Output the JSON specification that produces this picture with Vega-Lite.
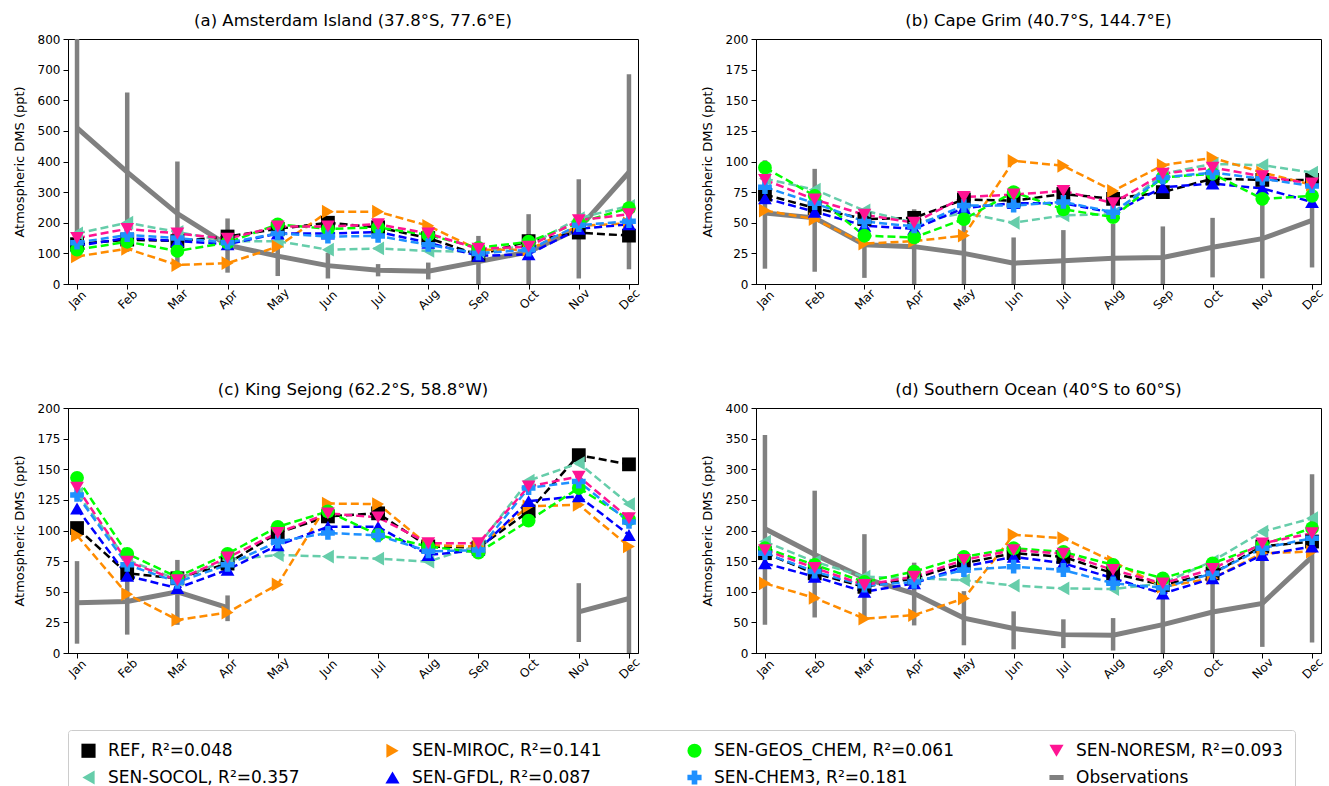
{
  "$schema": "https://vega.github.io/schema/vega-lite/v6.json",
  "padding": {"left": 12, "top": 12, "right": 2, "bottom": 0},
  "background": "white",
  "config": {
    "font": "DejaVu Sans",
    "view": {"stroke": "black", "strokeWidth": 1},
    "axis": {"labelFont": "DejaVu Sans", "labelFontSize": 12, "labelColor": "black", "titleFont": "DejaVu Sans", "titleFontSize": 13, "titleFontWeight": "normal", "titleColor": "black", "domainColor": "black", "tickColor": "black", "tickSize": 5, "grid": false, "labelPadding": 3, "titlePadding": 11},
    "axisX": {"labelAngle": -45, "labelAlign": "center", "labelBaseline": "middle", "labelPadding": 10},
    "title": {"font": "DejaVu Sans", "fontSize": 16.5, "fontWeight": "normal", "color": "black", "offset": 4},
    "legend": {"orient": "bottom", "columns": 4, "labelFont": "DejaVu Sans", "labelFontSize": 17, "labelColor": "black", "symbolSize": 200, "labelOffset": 11, "columnPadding": 84, "rowPadding": 8, "strokeColor": "#cccccc", "padding": 12, "cornerRadius": 3, "offset": 48, "labelLimit": 400}
  },
  "datasets": {
    "dms": [
      {"p":"a","m":"Jan","REF":130,"SEN-SOCOL":165,"SEN-MIROC":90,"SEN-GFDL":125,"SEN-GEOS_CHEM":112,"SEN-CHEM3":135,"SEN-NORESM":150,"Observations":510,"lo":110,"hi":910},
      {"p":"a","m":"Feb","REF":145,"SEN-SOCOL":200,"SEN-MIROC":115,"SEN-GFDL":150,"SEN-GEOS_CHEM":138,"SEN-CHEM3":160,"SEN-NORESM":180,"Observations":365,"lo":105,"hi":625},
      {"p":"a","m":"Mar","REF":140,"SEN-SOCOL":170,"SEN-MIROC":62,"SEN-GFDL":140,"SEN-GEOS_CHEM":108,"SEN-CHEM3":150,"SEN-NORESM":165,"Observations":230,"lo":60,"hi":400},
      {"p":"a","m":"Apr","REF":155,"SEN-SOCOL":140,"SEN-MIROC":68,"SEN-GFDL":130,"SEN-GEOS_CHEM":135,"SEN-CHEM3":135,"SEN-NORESM":148,"Observations":127,"lo":37,"hi":214},
      {"p":"a","m":"May","REF":180,"SEN-SOCOL":140,"SEN-MIROC":122,"SEN-GFDL":165,"SEN-GEOS_CHEM":195,"SEN-CHEM3":165,"SEN-NORESM":188,"Observations":91,"lo":26,"hi":156},
      {"p":"a","m":"Jun","REF":200,"SEN-SOCOL":112,"SEN-MIROC":236,"SEN-GFDL":165,"SEN-GEOS_CHEM":180,"SEN-CHEM3":155,"SEN-NORESM":188,"Observations":60,"lo":18,"hi":102},
      {"p":"a","m":"Jul","REF":185,"SEN-SOCOL":116,"SEN-MIROC":236,"SEN-GFDL":170,"SEN-GEOS_CHEM":185,"SEN-CHEM3":157,"SEN-NORESM":195,"Observations":45,"lo":25,"hi":65},
      {"p":"a","m":"Aug","REF":150,"SEN-SOCOL":108,"SEN-MIROC":190,"SEN-GFDL":135,"SEN-GEOS_CHEM":160,"SEN-CHEM3":128,"SEN-NORESM":165,"Observations":42,"lo":15,"hi":70},
      {"p":"a","m":"Sep","REF":95,"SEN-SOCOL":105,"SEN-MIROC":112,"SEN-GFDL":92,"SEN-GEOS_CHEM":118,"SEN-CHEM3":100,"SEN-NORESM":115,"Observations":73,"lo":-10,"hi":157},
      {"p":"a","m":"Oct","REF":140,"SEN-SOCOL":125,"SEN-MIROC":112,"SEN-GFDL":97,"SEN-GEOS_CHEM":138,"SEN-CHEM3":112,"SEN-NORESM":122,"Observations":105,"lo":-15,"hi":228},
      {"p":"a","m":"Nov","REF":168,"SEN-SOCOL":215,"SEN-MIROC":190,"SEN-GFDL":180,"SEN-GEOS_CHEM":200,"SEN-CHEM3":192,"SEN-NORESM":208,"Observations":181,"lo":18,"hi":342},
      {"p":"a","m":"Dec","REF":158,"SEN-SOCOL":255,"SEN-MIROC":198,"SEN-GFDL":195,"SEN-GEOS_CHEM":248,"SEN-CHEM3":205,"SEN-NORESM":228,"Observations":365,"lo":48,"hi":685},

      {"p":"b","m":"Jan","REF":73,"SEN-SOCOL":86,"SEN-MIROC":60,"SEN-GFDL":70,"SEN-GEOS_CHEM":95,"SEN-CHEM3":79,"SEN-NORESM":85,"Observations":58,"lo":12.5,"hi":101},
      {"p":"b","m":"Feb","REF":62,"SEN-SOCOL":77,"SEN-MIROC":53,"SEN-GFDL":59,"SEN-GEOS_CHEM":72,"SEN-CHEM3":66,"SEN-NORESM":69,"Observations":54,"lo":10,"hi":94},
      {"p":"b","m":"Mar","REF":53,"SEN-SOCOL":60,"SEN-MIROC":33,"SEN-GFDL":47.6,"SEN-GEOS_CHEM":39.4,"SEN-CHEM3":51,"SEN-NORESM":56.5,"Observations":32,"lo":5,"hi":59},
      {"p":"b","m":"Apr","REF":54,"SEN-SOCOL":50,"SEN-MIROC":35,"SEN-GFDL":45,"SEN-GEOS_CHEM":38,"SEN-CHEM3":47,"SEN-NORESM":50,"Observations":30.5,"lo":0,"hi":61},
      {"p":"b","m":"May","REF":69,"SEN-SOCOL":58,"SEN-MIROC":39.5,"SEN-GFDL":62,"SEN-GEOS_CHEM":53,"SEN-CHEM3":64,"SEN-NORESM":71,"Observations":25,"lo":0,"hi":50},
      {"p":"b","m":"Jun","REF":68,"SEN-SOCOL":50,"SEN-MIROC":100.5,"SEN-GFDL":66,"SEN-GEOS_CHEM":75,"SEN-CHEM3":64,"SEN-NORESM":73,"Observations":17,"lo":-4,"hi":38},
      {"p":"b","m":"Jul","REF":73.5,"SEN-SOCOL":56,"SEN-MIROC":96.5,"SEN-GFDL":66,"SEN-GEOS_CHEM":61,"SEN-CHEM3":67,"SEN-NORESM":76,"Observations":19,"lo":-5,"hi":44},
      {"p":"b","m":"Aug","REF":69.5,"SEN-SOCOL":57,"SEN-MIROC":76,"SEN-GFDL":58,"SEN-GEOS_CHEM":54.6,"SEN-CHEM3":58.6,"SEN-NORESM":66,"Observations":21,"lo":-7,"hi":49},
      {"p":"b","m":"Sep","REF":75,"SEN-SOCOL":90,"SEN-MIROC":97,"SEN-GFDL":79,"SEN-GEOS_CHEM":87,"SEN-CHEM3":87,"SEN-NORESM":90,"Observations":21.6,"lo":-4,"hi":47},
      {"p":"b","m":"Oct","REF":86,"SEN-SOCOL":98,"SEN-MIROC":103,"SEN-GFDL":82,"SEN-GEOS_CHEM":90,"SEN-CHEM3":91,"SEN-NORESM":95,"Observations":30,"lo":5.4,"hi":54},
      {"p":"b","m":"Nov","REF":85,"SEN-SOCOL":97,"SEN-MIROC":91,"SEN-GFDL":78,"SEN-GEOS_CHEM":69.5,"SEN-CHEM3":86,"SEN-NORESM":88,"Observations":37,"lo":4.6,"hi":69},
      {"p":"b","m":"Dec","REF":85,"SEN-SOCOL":91,"SEN-MIROC":81,"SEN-GFDL":67,"SEN-GEOS_CHEM":72,"SEN-CHEM3":80,"SEN-NORESM":82,"Observations":52,"lo":13.5,"hi":91},

      {"p":"c","m":"Jan","REF":102,"SEN-SOCOL":130,"SEN-MIROC":96,"SEN-GFDL":118,"SEN-GEOS_CHEM":143,"SEN-CHEM3":129,"SEN-NORESM":135,"Observations":41,"lo":7.6,"hi":75},
      {"p":"c","m":"Feb","REF":65,"SEN-SOCOL":76,"SEN-MIROC":48,"SEN-GFDL":63,"SEN-GEOS_CHEM":81,"SEN-CHEM3":72,"SEN-NORESM":74.6,"Observations":42,"lo":15,"hi":69},
      {"p":"c","m":"Mar","REF":61,"SEN-SOCOL":60,"SEN-MIROC":27,"SEN-GFDL":53,"SEN-GEOS_CHEM":62,"SEN-CHEM3":58,"SEN-NORESM":59.5,"Observations":50,"lo":23,"hi":76},
      {"p":"c","m":"Apr","REF":73,"SEN-SOCOL":76,"SEN-MIROC":33,"SEN-GFDL":68,"SEN-GEOS_CHEM":81,"SEN-CHEM3":72,"SEN-NORESM":78,"Observations":37,"lo":26,"hi":47},
      {"p":"c","m":"May","REF":98,"SEN-SOCOL":80,"SEN-MIROC":56,"SEN-GFDL":88,"SEN-GEOS_CHEM":103,"SEN-CHEM3":91,"SEN-NORESM":98,"Observations":null,"lo":null,"hi":null},
      {"p":"c","m":"Jun","REF":111.5,"SEN-SOCOL":78.7,"SEN-MIROC":122,"SEN-GFDL":103,"SEN-GEOS_CHEM":115.6,"SEN-CHEM3":98,"SEN-NORESM":114,"Observations":null,"lo":null,"hi":null},
      {"p":"c","m":"Jul","REF":114,"SEN-SOCOL":77,"SEN-MIROC":121.6,"SEN-GFDL":103,"SEN-GEOS_CHEM":96.4,"SEN-CHEM3":96,"SEN-NORESM":110.7,"Observations":null,"lo":null,"hi":null},
      {"p":"c","m":"Aug","REF":87,"SEN-SOCOL":74.6,"SEN-MIROC":88,"SEN-GFDL":80,"SEN-GEOS_CHEM":87,"SEN-CHEM3":83,"SEN-NORESM":89.6,"Observations":null,"lo":null,"hi":null},
      {"p":"c","m":"Sep","REF":86,"SEN-SOCOL":88,"SEN-MIROC":87,"SEN-GFDL":84,"SEN-GEOS_CHEM":82,"SEN-CHEM3":84,"SEN-NORESM":89.6,"Observations":null,"lo":null,"hi":null},
      {"p":"c","m":"Oct","REF":115.6,"SEN-SOCOL":140.7,"SEN-MIROC":119.7,"SEN-GFDL":124,"SEN-GEOS_CHEM":108,"SEN-CHEM3":134.7,"SEN-NORESM":136,"Observations":null,"lo":null,"hi":null},
      {"p":"c","m":"Nov","REF":161.5,"SEN-SOCOL":155,"SEN-MIROC":121,"SEN-GFDL":128,"SEN-GEOS_CHEM":134.7,"SEN-CHEM3":140,"SEN-NORESM":144,"Observations":33.6,"lo":9,"hi":57},
      {"p":"c","m":"Dec","REF":154,"SEN-SOCOL":121.6,"SEN-MIROC":87,"SEN-GFDL":96.4,"SEN-GEOS_CHEM":109,"SEN-CHEM3":107,"SEN-NORESM":110,"Observations":44.5,"lo":-2,"hi":85.5},

      {"p":"d","m":"Jan","REF":163,"SEN-SOCOL":182,"SEN-MIROC":113.7,"SEN-GFDL":146.5,"SEN-GEOS_CHEM":171,"SEN-CHEM3":163,"SEN-NORESM":168,"Observations":203,"lo":46,"hi":356},
      {"p":"d","m":"Feb","REF":130,"SEN-SOCOL":149,"SEN-MIROC":90,"SEN-GFDL":124.6,"SEN-GEOS_CHEM":144,"SEN-CHEM3":133,"SEN-NORESM":139,"Observations":161,"lo":58,"hi":265},
      {"p":"d","m":"Mar","REF":108,"SEN-SOCOL":124.6,"SEN-MIROC":56,"SEN-GFDL":100,"SEN-GEOS_CHEM":116,"SEN-CHEM3":110,"SEN-NORESM":111,"Observations":122,"lo":55,"hi":194},
      {"p":"d","m":"Apr","REF":122,"SEN-SOCOL":122,"SEN-MIROC":62,"SEN-GFDL":113.7,"SEN-GEOS_CHEM":133,"SEN-CHEM3":116,"SEN-NORESM":124.6,"Observations":97,"lo":45,"hi":147.5},
      {"p":"d","m":"May","REF":146.5,"SEN-SOCOL":119,"SEN-MIROC":89,"SEN-GFDL":141,"SEN-GEOS_CHEM":157,"SEN-CHEM3":135.5,"SEN-NORESM":152,"Observations":57,"lo":12.6,"hi":101},
      {"p":"d","m":"Jun","REF":163,"SEN-SOCOL":110,"SEN-MIROC":193,"SEN-GFDL":157,"SEN-GEOS_CHEM":171,"SEN-CHEM3":141,"SEN-NORESM":168,"Observations":40,"lo":6,"hi":68},
      {"p":"d","m":"Jul","REF":157,"SEN-SOCOL":105.5,"SEN-MIROC":187.5,"SEN-GFDL":146.5,"SEN-GEOS_CHEM":165,"SEN-CHEM3":135.5,"SEN-NORESM":162,"Observations":30,"lo":8,"hi":55},
      {"p":"d","m":"Aug","REF":130,"SEN-SOCOL":104.4,"SEN-MIROC":149,"SEN-GFDL":122,"SEN-GEOS_CHEM":144,"SEN-CHEM3":113.7,"SEN-NORESM":135.5,"Observations":29,"lo":4,"hi":57},
      {"p":"d","m":"Sep","REF":111,"SEN-SOCOL":113.7,"SEN-MIROC":108,"SEN-GFDL":97,"SEN-GEOS_CHEM":122,"SEN-CHEM3":106.5,"SEN-NORESM":113.7,"Observations":46.4,"lo":-3,"hi":96},
      {"p":"d","m":"Oct","REF":130,"SEN-SOCOL":150,"SEN-MIROC":122,"SEN-GFDL":122,"SEN-GEOS_CHEM":146.5,"SEN-CHEM3":130,"SEN-NORESM":137,"Observations":67,"lo":-2,"hi":134},
      {"p":"d","m":"Nov","REF":174,"SEN-SOCOL":198,"SEN-MIROC":163,"SEN-GFDL":160,"SEN-GEOS_CHEM":176.5,"SEN-CHEM3":171,"SEN-NORESM":179,"Observations":81,"lo":10,"hi":152},
      {"p":"d","m":"Dec","REF":182,"SEN-SOCOL":220,"SEN-MIROC":165.6,"SEN-GFDL":174,"SEN-GEOS_CHEM":204,"SEN-CHEM3":187.5,"SEN-NORESM":195.6,"Observations":157,"lo":17,"hi":292}
    ]
  },
  "data": {"name": "dms"},
  "transform": [
    {"fold": ["REF", "SEN-SOCOL", "SEN-MIROC", "SEN-GFDL", "SEN-GEOS_CHEM", "SEN-CHEM3", "SEN-NORESM", "Observations"], "as": ["key", "value"]}
  ],
  "spacing": 68,
  "vconcat": [
    {
      "spacing": 58,
      "hconcat": [
        {
          "title": "(a) Amsterdam Island (37.8°S, 77.6°E)",
          "width": 570, "height": 245,
          "transform": [{"filter": "datum.p == 'a'"}],
          "encoding": {
            "x": {"field": "m", "type": "ordinal", "scale": {"type": "point", "domain": ["Jan","Feb","Mar","Apr","May","Jun","Jul","Aug","Sep","Oct","Nov","Dec"], "padding": 0.18}, "axis": {"title": null}}
          },
          "layer": [
            {"transform": [{"filter": "datum.key == 'Observations'"}], "mark": {"type": "rule", "color": "#808080", "strokeWidth": 4.5, "clip": true},
             "encoding": {"y": {"field": "lo", "type": "quantitative", "scale": {"domain": [0, 800], "nice": false}, "axis": {"title": "Atmospheric DMS (ppt)", "values": [0,100,200,300,400,500,600,700,800]}}, "y2": {"field": "hi"}}},
            {"transform": [{"filter": "datum.key == 'Observations'"}], "mark": {"type": "line", "strokeWidth": 5, "clip": true, "invalid": "break-paths-show-domains"},
             "encoding": {"y": {"field": "value", "type": "quantitative", "scale": {"domain": [0, 800], "nice": false}, "axis": {"title": "Atmospheric DMS (ppt)", "values": [0,100,200,300,400,500,600,700,800]}},
               "color": {"field": "key", "type": "nominal", "scale": {"domain": ["REF","SEN-MIROC","SEN-GEOS_CHEM","SEN-NORESM","SEN-SOCOL","SEN-GFDL","SEN-CHEM3","Observations"], "range": ["#000000","#ff8c00","#00ff00","#ff1493","#66cdaa","#0000ff","#1e90ff","#808080"]}, "legend": {"title": null, "labelExpr": "datum.label == 'REF' ? 'REF, R²=0.048' : datum.label == 'SEN-SOCOL' ? 'SEN-SOCOL, R²=0.357' : datum.label == 'SEN-MIROC' ? 'SEN-MIROC, R²=0.141' : datum.label == 'SEN-GFDL' ? 'SEN-GFDL, R²=0.087' : datum.label == 'SEN-GEOS_CHEM' ? 'SEN-GEOS_CHEM, R²=0.061' : datum.label == 'SEN-CHEM3' ? 'SEN-CHEM3, R²=0.181' : datum.label == 'SEN-NORESM' ? 'SEN-NORESM, R²=0.093' : datum.label", "encode": {"symbols": {"update": {"stroke": {"scale": "color", "field": "value"}, "strokeWidth": {"signal": "datum.value === 'Observations' ? 5 : 0"}}}}}}}},
            {"transform": [{"filter": "datum.key != 'Observations'"}], "mark": {"type": "line", "strokeWidth": 2.5, "strokeDash": [8, 4], "clip": true},
             "encoding": {"y": {"field": "value", "type": "quantitative", "scale": {"domain": [0, 800], "nice": false}, "axis": {"title": "Atmospheric DMS (ppt)", "values": [0,100,200,300,400,500,600,700,800]}}, "color": {"field": "key", "type": "nominal"}}},
            {"transform": [{"filter": "datum.key != 'Observations'"}], "mark": {"type": "point", "filled": true, "opacity": 1, "size": 190, "clip": true},
             "encoding": {"y": {"field": "value", "type": "quantitative", "scale": {"domain": [0, 800], "nice": false}, "axis": {"title": "Atmospheric DMS (ppt)", "values": [0,100,200,300,400,500,600,700,800]}}, "color": {"field": "key", "type": "nominal"},
               "shape": {"field": "key", "type": "nominal", "scale": {"domain": ["REF","SEN-MIROC","SEN-GEOS_CHEM","SEN-NORESM","SEN-SOCOL","SEN-GFDL","SEN-CHEM3","Observations"], "range": ["square","triangle-right","circle","triangle-down","triangle-left","triangle-up","cross","stroke"]}}}}
          ]
        },
        {
          "title": "(b) Cape Grim (40.7°S, 144.7°E)",
          "width": 565, "height": 245,
          "transform": [{"filter": "datum.p == 'b'"}],
          "encoding": {
            "x": {"field": "m", "type": "ordinal", "scale": {"type": "point", "domain": ["Jan","Feb","Mar","Apr","May","Jun","Jul","Aug","Sep","Oct","Nov","Dec"], "padding": 0.18}, "axis": {"title": null}}
          },
          "layer": [
            {"transform": [{"filter": "datum.key == 'Observations'"}], "mark": {"type": "rule", "color": "#808080", "strokeWidth": 4.5, "clip": true},
             "encoding": {"y": {"field": "lo", "type": "quantitative", "scale": {"domain": [0, 200], "nice": false}, "axis": {"title": "Atmospheric DMS (ppt)", "values": [0,25,50,75,100,125,150,175,200]}}, "y2": {"field": "hi"}}},
            {"transform": [{"filter": "datum.key == 'Observations'"}], "mark": {"type": "line", "strokeWidth": 5, "clip": true, "invalid": "break-paths-show-domains"},
             "encoding": {"y": {"field": "value", "type": "quantitative", "scale": {"domain": [0, 200], "nice": false}, "axis": {"title": "Atmospheric DMS (ppt)", "values": [0,25,50,75,100,125,150,175,200]}}, "color": {"field": "key", "type": "nominal"}}},
            {"transform": [{"filter": "datum.key != 'Observations'"}], "mark": {"type": "line", "strokeWidth": 2.5, "strokeDash": [8, 4], "clip": true},
             "encoding": {"y": {"field": "value", "type": "quantitative", "scale": {"domain": [0, 200], "nice": false}, "axis": {"title": "Atmospheric DMS (ppt)", "values": [0,25,50,75,100,125,150,175,200]}}, "color": {"field": "key", "type": "nominal"}}},
            {"transform": [{"filter": "datum.key != 'Observations'"}], "mark": {"type": "point", "filled": true, "opacity": 1, "size": 190, "clip": true},
             "encoding": {"y": {"field": "value", "type": "quantitative", "scale": {"domain": [0, 200], "nice": false}, "axis": {"title": "Atmospheric DMS (ppt)", "values": [0,25,50,75,100,125,150,175,200]}}, "color": {"field": "key", "type": "nominal"}, "shape": {"field": "key", "type": "nominal"}}}
          ]
        }
      ]
    },
    {
      "spacing": 58,
      "hconcat": [
        {
          "title": "(c) King Sejong (62.2°S, 58.8°W)",
          "width": 570, "height": 245,
          "transform": [{"filter": "datum.p == 'c'"}],
          "encoding": {
            "x": {"field": "m", "type": "ordinal", "scale": {"type": "point", "domain": ["Jan","Feb","Mar","Apr","May","Jun","Jul","Aug","Sep","Oct","Nov","Dec"], "padding": 0.18}, "axis": {"title": null}}
          },
          "layer": [
            {"transform": [{"filter": "datum.key == 'Observations'"}], "mark": {"type": "rule", "color": "#808080", "strokeWidth": 4.5, "clip": true},
             "encoding": {"y": {"field": "lo", "type": "quantitative", "scale": {"domain": [0, 200], "nice": false}, "axis": {"title": "Atmospheric DMS (ppt)", "values": [0,25,50,75,100,125,150,175,200]}}, "y2": {"field": "hi"}}},
            {"transform": [{"filter": "datum.key == 'Observations'"}], "mark": {"type": "line", "strokeWidth": 5, "clip": true, "invalid": "break-paths-show-domains"},
             "encoding": {"y": {"field": "value", "type": "quantitative", "scale": {"domain": [0, 200], "nice": false}, "axis": {"title": "Atmospheric DMS (ppt)", "values": [0,25,50,75,100,125,150,175,200]}}, "color": {"field": "key", "type": "nominal"}}},
            {"transform": [{"filter": "datum.key != 'Observations'"}], "mark": {"type": "line", "strokeWidth": 2.5, "strokeDash": [8, 4], "clip": true},
             "encoding": {"y": {"field": "value", "type": "quantitative", "scale": {"domain": [0, 200], "nice": false}, "axis": {"title": "Atmospheric DMS (ppt)", "values": [0,25,50,75,100,125,150,175,200]}}, "color": {"field": "key", "type": "nominal"}}},
            {"transform": [{"filter": "datum.key != 'Observations'"}], "mark": {"type": "point", "filled": true, "opacity": 1, "size": 190, "clip": true},
             "encoding": {"y": {"field": "value", "type": "quantitative", "scale": {"domain": [0, 200], "nice": false}, "axis": {"title": "Atmospheric DMS (ppt)", "values": [0,25,50,75,100,125,150,175,200]}}, "color": {"field": "key", "type": "nominal"}, "shape": {"field": "key", "type": "nominal"}}}
          ]
        },
        {
          "title": "(d) Southern Ocean (40°S to 60°S)",
          "width": 565, "height": 245,
          "transform": [{"filter": "datum.p == 'd'"}],
          "encoding": {
            "x": {"field": "m", "type": "ordinal", "scale": {"type": "point", "domain": ["Jan","Feb","Mar","Apr","May","Jun","Jul","Aug","Sep","Oct","Nov","Dec"], "padding": 0.18}, "axis": {"title": null}}
          },
          "layer": [
            {"transform": [{"filter": "datum.key == 'Observations'"}], "mark": {"type": "rule", "color": "#808080", "strokeWidth": 4.5, "clip": true},
             "encoding": {"y": {"field": "lo", "type": "quantitative", "scale": {"domain": [0, 400], "nice": false}, "axis": {"title": "Atmospheric DMS (ppt)", "values": [0,50,100,150,200,250,300,350,400]}}, "y2": {"field": "hi"}}},
            {"transform": [{"filter": "datum.key == 'Observations'"}], "mark": {"type": "line", "strokeWidth": 5, "clip": true, "invalid": "break-paths-show-domains"},
             "encoding": {"y": {"field": "value", "type": "quantitative", "scale": {"domain": [0, 400], "nice": false}, "axis": {"title": "Atmospheric DMS (ppt)", "values": [0,50,100,150,200,250,300,350,400]}}, "color": {"field": "key", "type": "nominal"}}},
            {"transform": [{"filter": "datum.key != 'Observations'"}], "mark": {"type": "line", "strokeWidth": 2.5, "strokeDash": [8, 4], "clip": true},
             "encoding": {"y": {"field": "value", "type": "quantitative", "scale": {"domain": [0, 400], "nice": false}, "axis": {"title": "Atmospheric DMS (ppt)", "values": [0,50,100,150,200,250,300,350,400]}}, "color": {"field": "key", "type": "nominal"}}},
            {"transform": [{"filter": "datum.key != 'Observations'"}], "mark": {"type": "point", "filled": true, "opacity": 1, "size": 190, "clip": true},
             "encoding": {"y": {"field": "value", "type": "quantitative", "scale": {"domain": [0, 400], "nice": false}, "axis": {"title": "Atmospheric DMS (ppt)", "values": [0,50,100,150,200,250,300,350,400]}}, "color": {"field": "key", "type": "nominal"}, "shape": {"field": "key", "type": "nominal"}}}
          ]
        }
      ]
    }
  ]
}
